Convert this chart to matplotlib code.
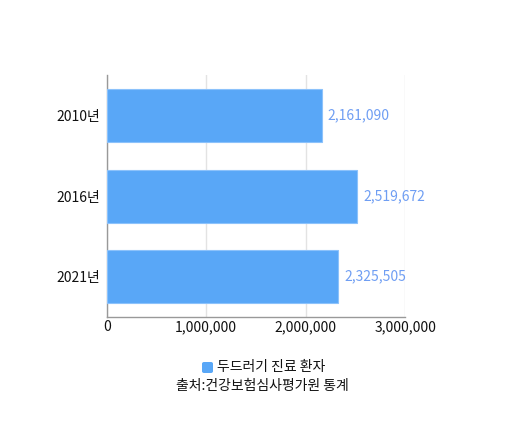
import matplotlib
matplotlib.use("Agg")
import matplotlib.pyplot as plt
from matplotlib.patches import FancyBboxPatch

plt.rcParams['font.family'] = ['Noto Sans CJK KR', 'DejaVu Sans']

years = ['2010년', '2016년', '2021년']
patients = [2161090, 2519672, 2325505]
series_name = '두드러기 진료 환자'
source = '출처:건강보험심사평가원 통계'

bar_color = '#59a7f7'
label_color = '#6f9ef3'

fig = plt.figure(figsize=(5.24, 4.32), dpi=100)
ax = fig.add_axes([0.2036, 0.266, 0.5695, 0.560])

pos = list(range(len(years)))
bars = ax.barh(pos, patients, height=0.66, color=bar_color,
               edgecolor='#8cc2fb', linewidth=0.8, zorder=3)

for p, v in zip(pos, patients):
    ax.text(v + 60000, p, f'{v:,}', va='center', ha='left',
            fontsize=10, color=label_color)

ax.set_ylim(2.5, -0.5)
ax.set_xlim(0, 3000000)
ax.set_yticks(pos)
ax.set_yticklabels(years, fontsize=10, color='#111111')
ax.set_xticks([0, 1000000, 2000000, 3000000])
ax.set_xticklabels([f'{t:,}' for t in [0, 1000000, 2000000, 3000000]],
                   fontsize=10, color='#111111')
ax.tick_params(axis='both', length=0)
ax.tick_params(axis='x', pad=2)
ax.tick_params(axis='y', pad=5)
ax.grid(axis='x', color='#e3e3e3', linewidth=1, zorder=0)
for s in ['top', 'right']:
    ax.spines[s].set_visible(False)
for s in ['left', 'bottom']:
    ax.spines[s].set_color('#999999')
    ax.spines[s].set_linewidth(1)

# legend
fig.patches.append(FancyBboxPatch((202 / 524, 1 - 373 / 432), 11 / 524, 11 / 432,
                                  boxstyle='round,pad=0,rounding_size=0.004',
                                  transform=fig.transFigure, facecolor=bar_color,
                                  edgecolor='none'))
fig.text(217 / 524, 1 - 367 / 432, series_name, va='center', ha='left',
         fontsize=10, color='#111111')
fig.text(262 / 524, 1 - 386 / 432, source, va='center', ha='center',
         fontsize=10, color='#111111')

fig.savefig('out.png', dpi=100)
